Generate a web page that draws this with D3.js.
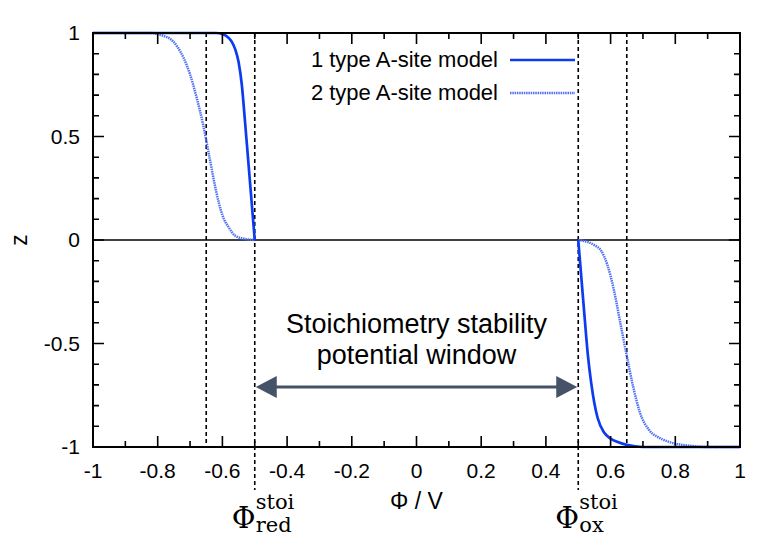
<!DOCTYPE html>
<html>
<head>
<meta charset="utf-8">
<script src="https://cdn.jsdelivr.net/npm/d3@7"></script>
<style>
  body { margin: 0; background: #fff; }
  text { font-family: "Liberation Sans", Arial, sans-serif; fill: #000; }
  .serif { font-family: "DejaVu Serif", "Liberation Serif", serif; }
</style>
</head>
<body>
<svg id="chart" width="780" height="548"></svg>
<script>
// 1 type A-site model
var solidLeftPhi = [-1, -0.62, -0.60, -0.58, -0.57, -0.56, -0.55, -0.54, -0.53, -0.52, -0.51, -0.50];
var solidLeftZ   = [1, 1, 0.995, 0.975, 0.955, 0.92, 0.86, 0.75, 0.57, 0.38, 0.19, 0];
var solidRightPhi = [0.50, 0.51, 0.52, 0.53, 0.54, 0.55, 0.56, 0.58, 0.60, 0.62, 0.65, 0.70, 1.0];
var solidRightZ   = [0, -0.19, -0.38, -0.56, -0.69, -0.79, -0.86, -0.93, -0.96, -0.975, -0.99, -1, -1];

// 2 type A-site model
var dotLeftPhi = [-1, -0.82, -0.80, -0.78, -0.76, -0.74, -0.72, -0.70, -0.68, -0.66, -0.64, -0.62, -0.60, -0.58, -0.56, -0.53, -0.50];
var dotLeftZ   = [1, 1, 0.995, 0.985, 0.97, 0.935, 0.88, 0.80, 0.69, 0.56, 0.40, 0.24, 0.12, 0.06, 0.02, 0.005, 0];
var dotRightPhi = [0.50, 0.53, 0.55, 0.57, 0.59, 0.61, 0.63, 0.65, 0.67, 0.69, 0.72, 0.75, 0.78, 0.85, 0.90, 1.0];
var dotRightZ   = [0, -0.01, -0.025, -0.05, -0.12, -0.24, -0.40, -0.56, -0.71, -0.83, -0.92, -0.955, -0.975, -0.995, -1, -1];

var xTicks = [-1, -0.8, -0.6, -0.4, -0.2, 0, 0.2, 0.4, 0.6, 0.8, 1];
var yTicks = [-1, -0.5, 0, 0.5, 1];
var minorTicks = [-0.9, -0.7, -0.5, -0.3, -0.1, 0.1, 0.3, 0.5, 0.7, 0.9];
var yMinorTicks = [-0.9, -0.8, -0.7, -0.6, -0.4, -0.3, -0.2, -0.1, 0.1, 0.2, 0.3, 0.4, 0.6, 0.7, 0.8, 0.9];
var refLines = [-0.65, -0.5, 0.5, 0.65];
var stoiLines = [-0.5, 0.5];
var legendLabels = ["1 type A-site model", "2 type A-site model"];
var windowLabel = ["Stoichiometry stability", "potential window"];

(function () {
var svg = d3.select("#chart");
var pl = 93, pr = 740, pt = 33, pb = 447;

var x = d3.scaleLinear().domain([-1, 1]).range([pl, pr]);
var y = d3.scaleLinear().domain([-1, 1]).range([pb, pt]);

function zip(a, b) { return a.map(function (v, i) { return [v, b[i]]; }); }

var line = d3.line()
    .x(function (d) { return x(d[0]); })
    .y(function (d) { return y(d[1]); })
    .curve(d3.curveMonotoneX);

var solidColor = "#0d3cf0", dotColor = "#4f72f4";

// tick labels
svg.selectAll(".xl").data(xTicks).enter().append("text")
    .attr("x", function (d) { return x(d); }).attr("y", 478)
    .attr("text-anchor", "middle").style("font-size", "21px")
    .text(function (d) { return String(d); });
svg.selectAll(".yl").data(yTicks).enter().append("text")
    .attr("x", 80).attr("y", function (d) { return y(d) + 7; })
    .attr("text-anchor", "end").style("font-size", "21px")
    .text(function (d) { return String(d); });

// dashed reference lines
svg.selectAll(".ref").data(refLines).enter().append("line")
    .attr("x1", function (d) { return x(d); }).attr("x2", function (d) { return x(d); })
    .attr("y1", pt)
    .attr("y2", function (d) { return stoiLines.indexOf(d) >= 0 ? 490 : pb; })
    .attr("stroke", "#000").attr("stroke-width", 1.6).attr("stroke-dasharray", "4,3");

// zero line
svg.append("line").attr("x1", pl).attr("x2", pr)
    .attr("y1", y(0)).attr("y2", y(0))
    .attr("stroke", "#000").attr("stroke-width", 1.5);

// curves
[[dotLeftPhi, dotLeftZ], [dotRightPhi, dotRightZ]].forEach(function (s) {
    svg.append("path").datum(zip(s[0], s[1])).attr("d", line)
        .attr("fill", "none").attr("stroke", dotColor).attr("stroke-width", 2.5)
        .attr("stroke-dasharray", "1.5,0.8");
});
[[solidLeftPhi, solidLeftZ], [solidRightPhi, solidRightZ]].forEach(function (s) {
    svg.append("path").datum(zip(s[0], s[1])).attr("d", line)
        .attr("fill", "none").attr("stroke", solidColor).attr("stroke-width", 2.7);
});

// frame
svg.append("rect").attr("x", pl).attr("y", pt)
    .attr("width", pr - pl).attr("height", pb - pt)
    .attr("fill", "none").attr("stroke", "#000").attr("stroke-width", 2);

// inward ticks on all four sides, one path
var d = "";
xTicks.forEach(function (v) {
    d += "M" + x(v) + "," + pb + "v-11" + "M" + x(v) + "," + pt + "v11";
});
minorTicks.forEach(function (v) {
    d += "M" + x(v) + "," + pb + "v-6" + "M" + x(v) + "," + pt + "v6";
});
yTicks.forEach(function (v) {
    d += "M" + pl + "," + y(v) + "h11" + "M" + pr + "," + y(v) + "h-11";
});
yMinorTicks.forEach(function (v) {
    d += "M" + pl + "," + y(v) + "h6" + "M" + pr + "," + y(v) + "h-6";
});
svg.append("path").attr("d", d).attr("fill", "none")
    .attr("stroke", "#000").attr("stroke-width", 1.6);

// legend
legendLabels.forEach(function (t, i) {
    var ly = 60 + i * 33;
    svg.append("text").attr("x", 498).attr("y", ly + 7).attr("text-anchor", "end")
        .style("font-size", "22px").text(t);
    svg.append("line").attr("x1", 510).attr("x2", 575).attr("y1", ly).attr("y2", ly)
        .attr("stroke", i === 0 ? solidColor : dotColor)
        .attr("stroke-width", i === 0 ? 2.7 : 2.5)
        .attr("stroke-dasharray", i === 0 ? null : "1.5,0.8");
});

// window arrow
var ay = 387, arrowColor = "#465267";
svg.append("line").attr("x1", x(-0.5) + 15).attr("x2", x(0.5) - 15)
    .attr("y1", ay).attr("y2", ay).attr("stroke", arrowColor).attr("stroke-width", 3);
[[x(-0.5) + 1, 1], [x(0.5) - 1, -1]].forEach(function (a) {
    var tx = a[0], dir = a[1];
    svg.append("path")
        .attr("d", "M" + tx + "," + ay + "L" + (tx + dir * 21) + "," + (ay - 11) +
            "L" + (tx + dir * 21) + "," + (ay + 11) + "Z")
        .attr("fill", arrowColor);
});
windowLabel.forEach(function (t, i) {
    svg.append("text").attr("x", x(0)).attr("y", 333 + i * 31)
        .attr("text-anchor", "middle").style("font-size", "27px").text(t);
});

// axis titles
svg.append("text").attr("transform", "translate(27," + y(0) + ") rotate(-90)")
    .attr("text-anchor", "middle").style("font-size", "23px").text("z");
svg.append("text").attr("x", x(0)).attr("y", 509).attr("text-anchor", "middle")
    .style("font-size", "23px").text("Φ / V");

// Phi stoi labels
[["red", -0.5], ["ox", 0.5]].forEach(function (p) {
    var px = x(p[1]);
    svg.append("text").attr("class", "serif").attr("x", px - 23).attr("y", 528)
        .style("font-size", "29px").text("Φ");
    svg.append("text").attr("class", "serif").attr("x", px + 1).attr("y", 509)
        .style("font-size", "21px").text("stoi");
    svg.append("text").attr("class", "serif").attr("x", px + 1).attr("y", 532)
        .style("font-size", "21px").text(p[0]);
});
})();
</script>
</body>
</html>
